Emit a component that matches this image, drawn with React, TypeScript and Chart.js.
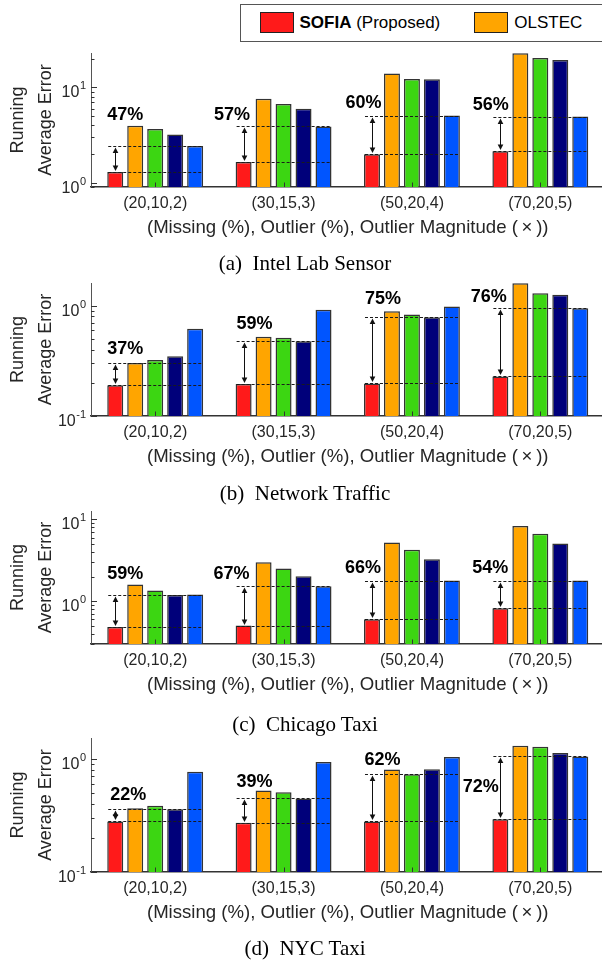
import React, { useEffect, useRef } from 'react';
import { Chart, registerables } from 'chart.js';

Chart.register(...registerables);

const SANS = '"Liberation Sans", Arial, Helvetica, sans-serif';
const SERIF = '"Liberation Serif", "Times New Roman", serif';

// ---------- data ----------
const categories = ['(20,10,2)', '(30,15,3)', '(50,20,4)', '(70,20,5)'];
const methodNames = ['SOFIA (Proposed)', 'OLSTEC', 'MAST', 'BRST', 'SMF'];
const xTitle = '(Missing (%), Outlier (%), Outlier Magnitude (\u2009×\u2009))';
const yTitle = ['Running', 'Average Error'];

// (a) Intel Lab Sensor
const intelSofia = [1.29, 1.65, 1.99, 2.14];
const intelOlstec = [3.95, 7.6, 14.0, 22.8];
const intelM3 = [3.67, 6.7, 12.3, 20.4];
const intelM4 = [3.2, 5.97, 12.2, 19.4];
const intelM5 = [2.42, 3.89, 5.07, 4.95];
const intelGain = ['47%', '57%', '60%', '56%'];

// (b) Network Traffic
const netSofia = [0.19, 0.195, 0.197, 0.228];
const netOlstec = [0.302, 0.522, 0.889, 1.59];
const netM3 = [0.321, 0.512, 0.83, 1.29];
const netM4 = [0.347, 0.475, 0.785, 1.25];
const netM5 = [0.617, 0.915, 0.98, 0.946];
const netGain = ['37%', '59%', '75%', '76%'];

// (c) Chicago Taxi
const chiSofia = [0.485, 0.504, 0.602, 0.82];
const chiOlstec = [1.6, 3.0, 5.23, 8.35];
const chiM3 = [1.35, 2.51, 4.25, 6.67];
const chiM4 = [1.19, 2.02, 3.27, 5.08];
const chiM5 = [1.21, 1.53, 1.79, 1.79];
const chiGain = ['59%', '67%', '66%', '54%'];

// (d) NYC Taxi
const nycSofia = [0.28, 0.273, 0.28, 0.292];
const nycOlstec = [0.367, 0.525, 0.805, 1.31];
const nycM3 = [0.385, 0.507, 0.73, 1.28];
const nycM4 = [0.359, 0.447, 0.81, 1.13];
const nycM5 = [0.768, 0.941, 1.04, 1.05];
const nycGain = ['22%', '39%', '62%', '72%'];

// ---------- styles / layout ----------
const methodColors = ['#FF1A1A', '#FFA500', '#3CD612', '#00007A', '#0055FF'];
const CW = 606;
const X_SCALE_H = 86;
const PAD_TOP = 10;

type PanelSpec = {
  key: string;
  caption: string;
  series: number[][];
  gain: string[];
  yMin: number;
  yMax: number;
  top: number;
  areaH: number;
  captionY: number;
  gainAt: number[];
  gainDx: number[];
};

const panels: PanelSpec[] = [
  {
    key: 'intel', caption: '(a)\u00A0 Intel Lab Sensor',
    series: [intelSofia, intelOlstec, intelM3, intelM4, intelM5], gain: intelGain,
    yMin: 0.9, yMax: 23, top: 43, areaH: 134, captionY: 264,
    gainAt: [5.16, 5.16, 6.85, 6.58], gainDx: [-30, -51.5, -48.5, -49.5],
  },
  {
    key: 'net', caption: '(b)\u00A0 Network Traffic',
    series: [netSofia, netOlstec, netM3, netM4, netM5], gain: netGain,
    yMin: 0.1, yMax: 1.6, top: 273, areaH: 133, captionY: 494,
    gainAt: [0.401, 0.684, 1.149, 1.188], gainDx: [-30, -29, -29, -51.6],
  },
  {
    key: 'chi', caption: '(c)\u00A0 Chicago Taxi',
    series: [chiSofia, chiOlstec, chiM3, chiM4, chiM5], gain: chiGain,
    yMin: 0.3, yMax: 12.7, top: 501, areaH: 133, captionY: 725,
    gainAt: [2.14, 2.18, 2.56, 2.56], gainDx: [-30, -52, -49, -50],
  },
  {
    key: 'nyc', caption: '(d)\u00A0 NYC Taxi',
    series: [nycSofia, nycOlstec, nycM3, nycM4, nycM5], gain: nycGain,
    yMin: 0.1, yMax: 1.53, top: 728, areaH: 134, captionY: 949,
    gainAt: [0.484, 0.622, 0.986, 0.566], gainDx: [-27, -29, -29.5, -59.6],
  },
];

function logTickValues(min: number, max: number) {
  const out: { value: number; major: boolean }[] = [];
  const e0 = Math.floor(Math.log10(min));
  const e1 = Math.ceil(Math.log10(max));
  for (let e = e0; e <= e1; e++) {
    for (let m = 1; m <= 9; m++) {
      const v = +(m * Math.pow(10, e)).toPrecision(6);
      if (v >= min * 0.999999 && v <= max * 1.000001) out.push({ value: v, major: m === 1 });
    }
  }
  return out;
}

function makeAnnot(p: PanelSpec) {
  return {
    id: 'annot-' + p.key,
    afterDatasetsDraw(chart: any) {
      const ctx: CanvasRenderingContext2D = chart.ctx;
      const ys = chart.scales.y;
      const xs = chart.scales.x;
      const m0 = chart.getDatasetMeta(0);
      const m4 = chart.getDatasetMeta(4);
      ctx.save();
      categories.forEach((_, i) => {
        const red = m0.data[i];
        const blue = m4.data[i];
        const x0 = red.x - red.width / 2 + 1;
        const x1 = blue.x + blue.width / 2;
        const best = Math.min(...p.series.slice(1).map((s) => s[i]));
        const yLo = Math.round(ys.getPixelForValue(p.series[0][i])) + 0.5;
        const yHi = Math.round(ys.getPixelForValue(best)) + 0.5;
        ctx.strokeStyle = '#1a1a1a';
        ctx.lineWidth = 1;
        ctx.setLineDash([3, 2]);
        [yLo, yHi].forEach((y) => {
          ctx.beginPath();
          ctx.moveTo(x0, y);
          ctx.lineTo(x1, y);
          ctx.stroke();
        });
        ctx.setLineDash([]);
        // double arrow
        const ax = Math.round(red.x) + 0.5;
        const t = yHi + 1;
        const b = yLo - 1.5;
        ctx.strokeStyle = '#111';
        ctx.fillStyle = '#111';
        ctx.beginPath();
        ctx.moveTo(ax, t + 3);
        ctx.lineTo(ax, b - 3);
        ctx.stroke();
        ctx.beginPath();
        ctx.moveTo(ax, t);
        ctx.lineTo(ax - 2.8, t + 5.5);
        ctx.lineTo(ax + 2.8, t + 5.5);
        ctx.closePath();
        ctx.fill();
        ctx.beginPath();
        ctx.moveTo(ax, b);
        ctx.lineTo(ax - 2.8, b - 5.5);
        ctx.lineTo(ax + 2.8, b - 5.5);
        ctx.closePath();
        ctx.fill();
        // percentage label
        ctx.font = `bold 18px ${SANS}`;
        ctx.textAlign = 'center';
        ctx.textBaseline = 'middle';
        ctx.fillStyle = '#000';
        ctx.fillText(p.gain[i], xs.getPixelForValue(i) + p.gainDx[i], ys.getPixelForValue(p.gainAt[i]));
      });
      ctx.restore();
    },
    afterDraw(chart: any) {
      const ctx: CanvasRenderingContext2D = chart.ctx;
      const ys = chart.scales.y;
      const xs = chart.scales.x;
      const area = chart.chartArea;
      ctx.save();
      ctx.strokeStyle = '#333';
      ctx.lineWidth = 1;
      // y ticks (inward)
      ys.ticks.forEach((tk: any) => {
        const y = Math.round(ys.getPixelForValue(tk.value)) + 0.5;
        const len = tk.major ? 6 : 3.5;
        ctx.beginPath();
        ctx.moveTo(area.left, y);
        ctx.lineTo(area.left + len, y);
        ctx.stroke();
        if (tk.major) {
          const exp = String(Math.round(Math.log10(tk.value)));
          ctx.fillStyle = '#262626';
          ctx.textBaseline = 'alphabetic';
          ctx.textAlign = 'left';
          ctx.font = `11px ${SANS}`;
          const w2 = ctx.measureText(exp).width;
          ctx.font = `16px ${SANS}`;
          const w1 = ctx.measureText('10').width;
          const right = area.left - 5;
          ctx.fillText('10', right - w2 - w1 - 0.5, y + 9.5);
          ctx.font = `11px ${SANS}`;
          ctx.fillText(exp, right - w2, y + 1);
        }
      });
      // x ticks (inward, at category centers)
      categories.forEach((_, i) => {
        const x = Math.round(xs.getPixelForValue(i)) + 0.5;
        ctx.beginPath();
        ctx.moveTo(x, area.bottom);
        ctx.lineTo(x, area.bottom - 4.5);
        ctx.stroke();
      });
      ctx.restore();
    },
  };
}

function Panel({ p }: { p: PanelSpec }) {
  const ref = useRef<HTMLCanvasElement>(null);
  const h = PAD_TOP + p.areaH + X_SCALE_H;
  useEffect(() => {
    const canvas = ref.current as HTMLCanvasElement;
    const chart = new Chart(canvas, {
      type: 'bar',
      data: {
        labels: categories,
        datasets: p.series.map((vals, k) => ({
          label: methodNames[k],
          data: vals,
          backgroundColor: methodColors[k],
          borderColor: '#333',
          borderWidth: 1.5,
          categoryPercentage: 0.778,
          barPercentage: 0.8,
        })),
      },
      options: {
        animation: false,
        responsive: false,
        maintainAspectRatio: false,
        devicePixelRatio: 1,
        events: [],
        layout: { padding: { top: PAD_TOP, left: 0, right: 1.5, bottom: 0 } },
        plugins: {
          legend: { display: false },
          tooltip: { enabled: false },
          title: { display: false },
        },
        scales: {
          x: {
            type: 'category',
            grid: { display: false, drawTicks: false },
            border: { display: true, color: '#333', width: 1.5 },
            ticks: {
              color: '#262626',
              font: { family: SANS, size: 16 },
              padding: 7,
              maxRotation: 0,
              autoSkip: false,
            },
            title: {
              display: true,
              text: xTitle,
              color: '#262626',
              font: { family: SANS, size: 18.6 },
              padding: { top: 0, bottom: 34 },
            },
            afterFit: (s: any) => {
              s.height = X_SCALE_H;
            },
          },
          y: {
            type: 'logarithmic',
            min: p.yMin,
            max: p.yMax,
            grid: { display: false, drawTicks: false },
            border: { display: true, color: '#555', width: 1 },
            ticks: { display: false },
            title: {
              display: true,
              text: yTitle,
              color: '#262626',
              font: { family: SANS, size: 18, lineHeight: 1.55 },
              padding: { top: 4, bottom: 0 },
            },
            afterBuildTicks: (s: any) => {
              s.ticks = logTickValues(p.yMin, p.yMax);
            },
            afterFit: (s: any) => {
              s.width = 91;
            },
          },
        },
      } as any,
      plugins: [makeAnnot(p)],
    });
    return () => chart.destroy();
  }, []);
  return (
    <canvas
      ref={ref}
      width={CW}
      height={h}
      style={{ position: 'absolute', left: 0, top: p.top, width: CW, height: h }}
    />
  );
}

function Legend() {
  return (
    <div
      style={{
        position: 'absolute',
        left: 240,
        top: 4,
        width: 760,
        height: 35.7,
        border: '1.5px solid #555',
        background: '#fff',
        display: 'flex',
        alignItems: 'center',
        whiteSpace: 'nowrap',
        font: `17px ${SANS}`,
        color: '#000',
      }}
    >
      {methodNames.map((n, k) => (
        <div key={k} style={{ display: 'flex', alignItems: 'center', marginLeft: k === 0 ? 18.5 : 34 }}>
          <span
            style={{
              display: 'inline-block',
              width: 34,
              height: 21,
              background: methodColors[k],
              border: '1px solid #222',
              boxSizing: 'border-box',
              marginRight: 6,
            }}
          />
          <span>
            {k === 0 ? (
              <>
                <b>SOFIA</b> (Proposed)
              </>
            ) : (
              n
            )}
          </span>
        </div>
      ))}
    </div>
  );
}

export default function App() {
  return (
    <div
      style={{
        position: 'absolute',
        left: 0,
        top: 0,
        width: 602,
        height: 961,
        overflow: 'hidden',
        background: '#fff',
      }}
    >
      <Legend />
      {panels.map((p) => (
        <React.Fragment key={p.key}>
          <Panel p={p} />
          <div
            style={{
              position: 'absolute',
              left: 0,
              width: 610,
              top: p.captionY - 13,
              height: 26,
              lineHeight: '26px',
              textAlign: 'center',
              font: `21px ${SERIF}`,
              color: '#000',
              whiteSpace: 'pre',
            }}
          >
            {p.caption}
          </div>
        </React.Fragment>
      ))}
    </div>
  );
}
